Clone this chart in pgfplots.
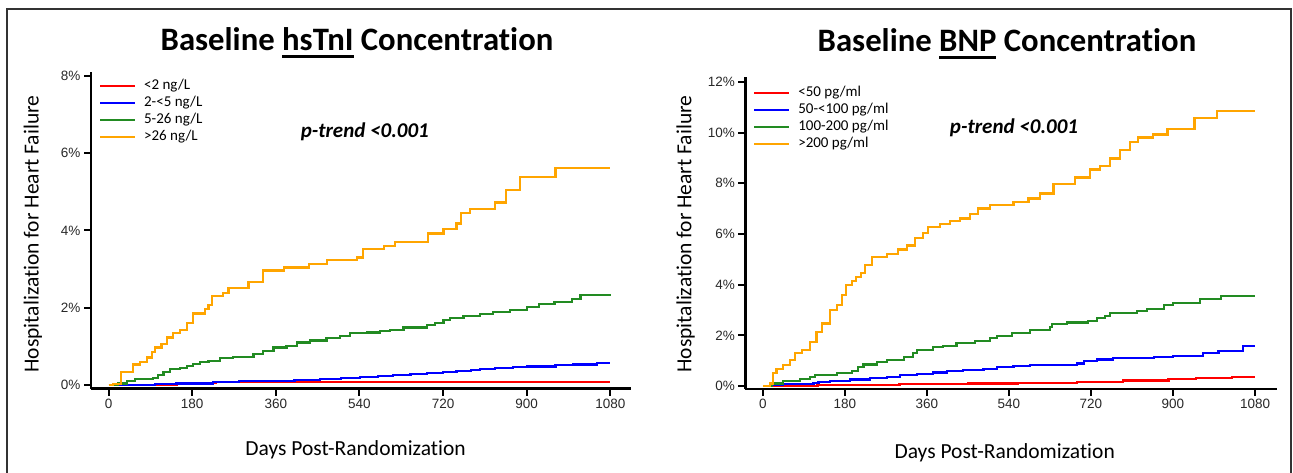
\documentclass[border=0pt]{standalone}
\usepackage{fontspec}
\setmainfont{Carlito}[Ligatures={NoCommon}]
\newfontfamily\arialf{Liberation Sans}
\usepackage{pgfplots}
\pgfplotsset{compat=1.18}
\definecolor{cred}{RGB}{255,0,0}
\definecolor{cblue}{RGB}{0,0,255}
\definecolor{cgreen}{RGB}{34,139,34}
\definecolor{corange}{RGB}{255,165,0}
\definecolor{ticktext}{RGB}{40,40,40}
\newcommand\myul[1]{\setbox0\hbox{#1}\rlap{\rule[-7pt]{\wd0}{2.5pt}}\box0\relax}
\pgfplotsset{
  kmstyle/.style={
    scale only axis,
    clip mode=individual,
    axis x line*=bottom, axis y line*=left,
    axis line style={line width=2.2pt,-},
    tick style={line width=2pt,black},
    tick align=outside,
    major tick length=7pt,
    minor tick num=0,
    xtick={0,180,360,540,720,900,1080},
    tick label style={font=\arialf\fontsize{13.5}{14}\selectfont, text=ticktext},
    /pgf/number format/assume math mode=true,
    /pgf/number format/1000 sep={},
    yticklabel={\pgfmathprintnumber{\tick}\%},
    label style={font=\fontsize{21.5}{22}\selectfont},
    xlabel={Days Post-Randomization},
    ylabel={Hospitalization for Heart Failure},
    every axis plot/.append style={line width=2.2pt, mark=none, const plot},
    legend cell align=left,
    legend image code/.code={\draw[##1,line width=2.2pt] (0pt,0pt) -- (35pt,0pt); \path (42pt,0pt);},
    legend style={draw=none, fill=none, anchor=north west, inner sep=0pt,
      font=\fontsize{15}{15}\selectfont, row sep=1pt,
      nodes={inner sep=1pt, text depth=3.5pt, text height=10.5pt}},
  }
}
\begin{document}
\begin{tikzpicture}
\useasboundingbox (0,0) rectangle (1293pt,472pt);
\draw[line width=2pt, black!80] (7pt,-5pt) -- (7pt,463pt) -- (1291pt,463pt) -- (1291pt,-5pt);
% ---------------- left panel
\begin{axis}[kmstyle,
  at={(91pt,83.5pt)}, anchor=south west,
  width=540pt, height=316.5pt,
  xmin=-37.9, xmax=1124.6, ymin=-0.0906, ymax=8.098,
  ytick={0,2,4,6,8},
  xlabel style={at={(axis description cs:0.49,-0.195)}, anchor=center},
  ylabel style={at={(axis description cs:-0.1074,0.488)}, anchor=center, rotate=0},
  legend style={at={(axis description cs:0.0143,0.981)}},
]
\addplot[cred] coordinates {(0,0) (148,0.06) (230,0.07) (1080,0.07)};
\addlegendentry{<2 ng/L}
\addplot[cblue] coordinates {(12,0) (100,0.02) (146,0.04) (225,0.08) (280,0.1) (340,0.11) (400,0.13) (455,0.15) (500,0.18) (541,0.2) (580,0.23) (613,0.26) (650,0.29) (685,0.32) (720,0.34) (749,0.36) (780,0.39) (800,0.41) (832,0.45) (870,0.47) (900,0.48) (962,0.51) (1000,0.53) (1051,0.56) (1080,0.56)};
\addlegendentry{2-<5 ng/L}
\addplot[cgreen] coordinates {(5,0) (21,0.04) (39,0.11) (57,0.15) (96,0.18) (107,0.26) (118,0.34) (132,0.41) (154,0.43) (168,0.49) (182,0.54) (197,0.6) (215,0.63) (240,0.69) (268,0.72) (294,0.73) (312,0.8) (333,0.88) (355,0.97) (383,1.01) (405,1.1) (433,1.15) (469,1.21) (498,1.27) (520,1.34) (556,1.36) (584,1.39) (606,1.42) (635,1.49) (685,1.55) (703,1.61) (721,1.68) (735,1.74) (764,1.79) (800,1.84) (828,1.88) (864,1.95) (900,2.02) (926,2.1) (960,2.15) (998,2.22) (1016,2.33) (1080,2.36)};
\addlegendentry{5-26 ng/L}
\addplot[corange] coordinates {(0,0) (10,0.03) (26,0.34) (53,0.53) (68,0.6) (82,0.71) (93,0.86) (100,0.97) (114,1.06) (125,1.23) (139,1.34) (154,1.42) (168,1.6) (182,1.85) (208,1.96) (215,2.07) (222,2.3) (247,2.39) (258,2.5) (301,2.67) (332,2.96) (378,3.04) (432,3.13) (471,3.23) (534,3.3) (548,3.51) (592,3.6) (617,3.71) (688,3.92) (721,4.04) (749,4.18) (758,4.44) (778,4.56) (832,4.72) (855,5.05) (886,5.38) (962,5.61) (1080,5.61)};
\addlegendentry{>26 ng/L}
\node[font=\fontsize{32.7}{33}\selectfont\bfseries, anchor=base] at (axis description cs:0.4926,1.067) {Baseline \myul{hsTnI} Concentration};
\node[font=\fontsize{21}{21}\selectfont\bfseries\itshape, anchor=base] at (axis description cs:0.507,0.793) {p-trend <0.001};
\end{axis}
% ---------------- right panel
\begin{axis}[kmstyle,
  at={(745.4pt,83pt)}, anchor=south west,
  width=531.9pt, height=312.3pt,
  xmin=-38.2, xmax=1128.9, ymin=-0.118, ymax=12.21,
  ytick={0,2,4,6,8,10,12},
  xlabel style={at={(axis description cs:0.4875,-0.205)}, anchor=center},
  ylabel style={at={(axis description cs:-0.1126,0.496)}, anchor=center, rotate=0},
  legend style={at={(axis description cs:0.0141,0.975)}},
]
\addplot[cred] coordinates {(10,0) (30,0.01) (120,0.03) (200,0.05) (300,0.07) (450,0.1) (560,0.13) (690,0.17) (790,0.22) (890,0.28) (950,0.33) (1030,0.37) (1080,0.37)};
\addlegendentry{<50 pg/ml}
\addplot[cblue] coordinates {(10,0) (15,0.03) (45,0.07) (111,0.11) (122,0.17) (148,0.21) (192,0.26) (235,0.33) (272,0.37) (301,0.42) (338,0.47) (374,0.53) (404,0.6) (440,0.64) (484,0.67) (513,0.74) (550,0.78) (586,0.82) (630,0.84) (689,0.89) (704,1.0) (733,1.05) (769,1.12) (858,1.15) (900,1.2) (966,1.29) (1000,1.37) (1053,1.57) (1080,1.57)};
\addlegendentry{50-<100 pg/ml}
\addplot[cgreen] coordinates {(8,0) (19,0.1) (45,0.21) (82,0.29) (104,0.37) (115,0.43) (162,0.5) (195,0.6) (209,0.74) (221,0.85) (250,0.96) (272,1.03) (309,1.13) (330,1.29) (338,1.42) (374,1.53) (396,1.58) (425,1.71) (466,1.79) (499,1.88) (513,1.97) (546,2.1) (586,2.21) (630,2.34) (634,2.45) (667,2.51) (714,2.58) (733,2.67) (751,2.76) (762,2.89) (821,2.97) (843,3.05) (880,3.2) (900,3.28) (960,3.42) (1006,3.55) (1080,3.55)};
\addlegendentry{100-200 pg/ml}
\addplot[corange] coordinates {(0,0) (16,0.1) (23,0.5) (30,0.66) (45,0.83) (60,1.03) (71,1.29) (86,1.42) (104,1.75) (118,2.14) (130,2.47) (147,3.0) (162,3.2) (173,3.6) (182,4.0) (195,4.15) (205,4.3) (215,4.45) (224,4.77) (239,5.1) (272,5.21) (297,5.39) (316,5.55) (334,5.83) (352,6.05) (363,6.29) (389,6.39) (411,6.52) (433,6.61) (455,6.79) (473,7.01) (499,7.14) (550,7.27) (583,7.4) (608,7.6) (638,7.97) (685,8.23) (718,8.55) (740,8.68) (762,8.98) (784,9.31) (806,9.64) (824,9.81) (856,9.93) (888,10.13) (947,10.59) (997,10.85) (1080,10.85)};
\addlegendentry{>200 pg/ml}
\node[font=\fontsize{32.7}{33}\selectfont\bfseries, anchor=base] at (axis description cs:0.4918,1.08) {Baseline \myul{BNP} Concentration};
\node[font=\fontsize{21}{21}\selectfont\bfseries\itshape, anchor=base] at (axis description cs:0.505,0.818) {p-trend <0.001};
\end{axis}
\end{tikzpicture}
\end{document}
